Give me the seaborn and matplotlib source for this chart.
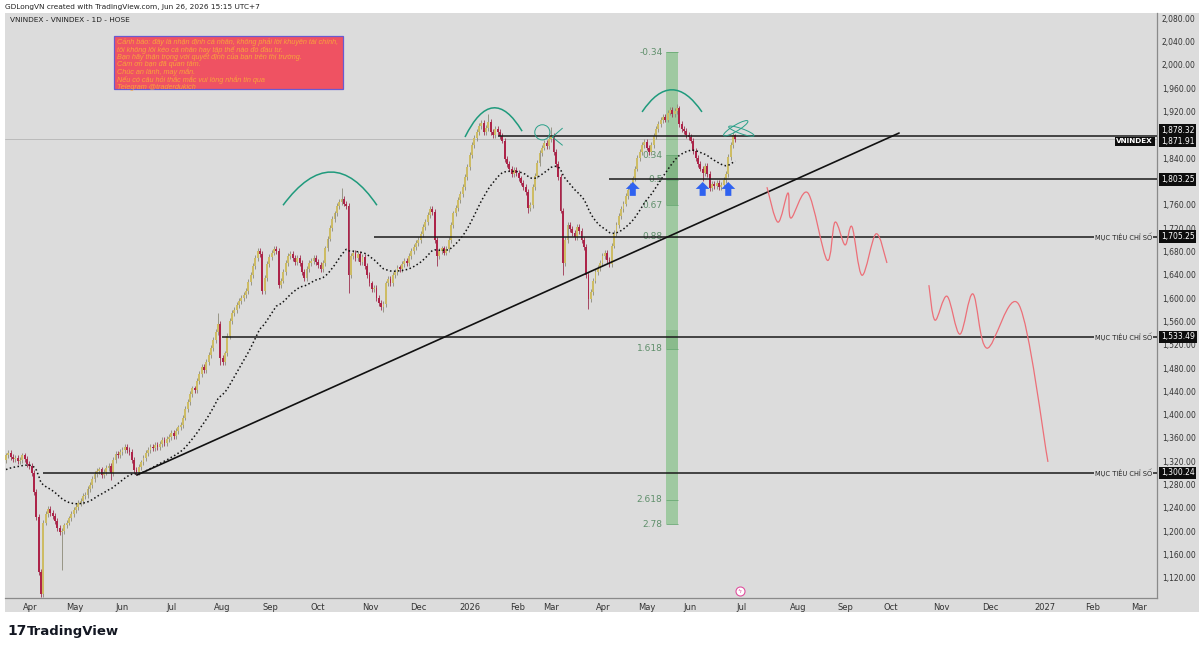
import numpy as np
import pandas as pd
import matplotlib
matplotlib.use('Agg')
import matplotlib.pyplot as plt
import seaborn as sns
from matplotlib.path import Path
from matplotlib.patches import PathPatch, Rectangle, Ellipse

#%% data (daily closes, index = trading-day number)
pre_closes = [1310, 1305, 1300, 1296, 1292, 1298, 1304, 1300, 1295, 1290,
              1295, 1290, 1298, 1302, 1296, 1290, 1285, 1292, 1300, 1305,
              1298, 1294, 1300, 1306, 1310, 1315, 1312, 1318, 1322]
closes = [1330, 1334, 1328, 1324, 1326, 1320, 1322, 1330, 1324, 1316,
          1312, 1300, 1268, 1225, 1130, 1092, 1215, 1230, 1238, 1232,
          1226, 1218, 1205, 1198, 1200, 1210, 1215, 1222, 1230, 1236,
          1242, 1248, 1252, 1260, 1262, 1272, 1280, 1290, 1298, 1304,
          1306, 1296, 1302, 1308, 1312, 1300, 1322, 1332, 1330, 1336,
          1340, 1344, 1340, 1336, 1322, 1305, 1302, 1310, 1318, 1325,
          1334, 1340, 1345, 1342, 1348, 1344, 1350, 1356, 1352, 1358,
          1362, 1368, 1364, 1372, 1378, 1382, 1395, 1410, 1422, 1435,
          1445, 1442, 1458, 1470, 1482, 1476, 1490, 1502, 1515, 1528,
          1542, 1556, 1498, 1490, 1505, 1535, 1560, 1575, 1580, 1588,
          1595, 1600, 1605, 1612, 1628, 1640, 1655, 1668, 1680, 1676,
          1612, 1635, 1658, 1670, 1678, 1684, 1680, 1622, 1630, 1645,
          1660, 1672, 1676, 1668, 1662, 1668, 1660, 1645, 1634, 1650,
          1660, 1664, 1668, 1662, 1656, 1650, 1660, 1685, 1702, 1720,
          1735, 1745, 1758, 1765, 1770, 1762, 1758, 1640, 1672, 1678,
          1668, 1675, 1662, 1670, 1655, 1640, 1625, 1615, 1618, 1600,
          1592, 1585, 1590, 1625, 1632, 1625, 1640, 1645, 1652, 1650,
          1658, 1664, 1660, 1672, 1680, 1688, 1695, 1700, 1710, 1722,
          1730, 1742, 1752, 1748, 1700, 1672, 1680, 1685, 1678, 1684,
          1700, 1725, 1745, 1755, 1768, 1778, 1790, 1808, 1825, 1845,
          1862, 1875, 1884, 1895, 1900, 1885, 1892, 1902, 1885, 1880,
          1890, 1884, 1878, 1870, 1838, 1830, 1822, 1812, 1820, 1815,
          1805, 1798, 1790, 1782, 1755, 1760, 1790, 1810, 1832, 1848,
          1858, 1866, 1860, 1872, 1878, 1850, 1830, 1808, 1750, 1660,
          1700, 1725, 1718, 1712, 1705, 1722, 1715, 1700, 1688, 1640,
          1598, 1610, 1630, 1645, 1652, 1660, 1672, 1678, 1665, 1658,
          1690, 1712, 1725, 1740, 1752, 1762, 1775, 1785, 1792, 1805,
          1822, 1840, 1850, 1862, 1868, 1858, 1850, 1862, 1878, 1890,
          1898, 1905, 1910, 1906, 1918, 1922, 1915, 1920, 1925, 1898,
          1890, 1886, 1880, 1876, 1870, 1852, 1840, 1830, 1822, 1815,
          1826, 1812, 1788, 1796, 1792, 1798, 1790, 1794, 1802, 1812,
          1842, 1862, 1880, 1871.91]
# notable wick extremes: bar -> (high, low)
wick_extremes = {15: (None, 1087), 24: (None, 1134), 45: (None, 1288), 91: (1575, None),
                 92: (None, 1485), 144: (1788, None), 147: (None, 1608), 162: (None, 1576),
                 185: (None, 1655), 207: (1915, None), 224: (None, 1745), 234: (1893, None),
                 239: (None, 1640), 250: (None, 1582), 288: (1932, None), 299: (None, 1800),
                 313: (1882, None)}
ema_span = 34

month_labels = ['Apr', 'May', 'Jun', 'Jul', 'Aug', 'Sep', 'Oct', 'Nov', 'Dec', '2026', 'Feb', 'Mar',
                'Apr', 'May', 'Jun', 'Jul', 'Aug', 'Sep', 'Oct', 'Nov', 'Dec', '2027', 'Feb', 'Mar']
month_pos = [10.3, 29.6, 49.8, 71.2, 92.7, 113.3, 133.9, 156.2, 176.8, 199.1, 219.7, 233.9,
             256.2, 275.1, 293.6, 315.5, 339.9, 360.1, 379.8, 401.3, 422.3, 445.9, 466.5, 486.3]
price_ticks = [p for p in range(1120, 2081, 40) if p not in (1800, 1880)]

# drawings
h_levels = [1878.32, 1803.25, 1705.25, 1533.49, 1300.24]
h_start = [211, 259, 158, 92.7, 16]
target_levels = [1705.25, 1533.49, 1300.24]
last_price = 1871.91
trend_x = [56.2, 383.3]
trend_y = [1296.5, 1882.8]
fib_0, fib_1 = 1932.8, 1673.5
fib_levels = [-0.34, 0.34, 0.5, 0.67, 0.88, 1.618, 2.618, 2.78]
fib_x = (283.3, 288.4)
arcs = [[(118.9, 1759), (139.5, 1816), (159.2, 1759)],
        [(197.0, 1876), (209.0, 1926), (221.5, 1886)],
        [(273.0, 1919), (285.8, 1957), (298.7, 1919)]]
arrow_x = [269, 299, 310]
arrow_y = 1787
proj1_x = [326.6, 331.3, 335.6, 336.9, 344.2, 352.4, 355.8, 360.1, 363.1, 367.4, 373.4, 378.1]
proj1_y = [1790, 1730, 1780, 1737, 1780, 1665, 1730, 1691, 1722, 1639, 1710, 1660]
proj2_x = [396.1, 398.7, 403.9, 409.4, 415.0, 421.0, 434.8, 447.2]
proj2_y = [1622, 1562, 1603, 1538, 1607, 1514, 1588, 1319]

note_lines = ['Cảnh báo: đây là nhận định cá nhân, không phải lời khuyên tài chính,',
              'tôi không lôi kéo cá nhân hay tập thể nào đó đầu tư.',
              'Bạn hãy thận trọng với quyết định của bạn trên thị trường.',
              'Cám ơn bạn đã quan tâm.',
              'Chúc an lành, may mắn.',
              'Nếu có câu hỏi thắc mắc vui lòng nhắn tin qua',
              'Telegram @traderdukich']

#%% helpers
def smoothPath(xs, ys):
    pts = np.column_stack([xs, ys]).astype(float)
    verts = [pts[0]]
    codes = [Path.MOVETO]
    n = len(pts)
    for k in range(n - 1):
        p0 = pts[k - 1] if k > 0 else pts[k]
        p1, p2 = pts[k], pts[k + 1]
        p3 = pts[k + 2] if k + 2 < n else pts[k + 1]
        verts += [p1 + (p2 - p0) / 6, p2 - (p3 - p1) / 6, p2]
        codes += [Path.CURVE4] * 3
    return Path(verts, codes)

def arcPath(a, m, b):
    a, m, b = np.array(a), np.array(m), np.array(b)
    ctrl = 2 * m - (a + b) / 2
    return Path([a, ctrl, b], [Path.MOVETO, Path.CURVE3, Path.CURVE3])

#%% plotting
sns.set_style('white')
plt.rcParams['font.family'] = ['DejaVu Sans']
bg = '#dcdcdc'
W, H = 1199, 646

fig = plt.figure(figsize=(W / 100, H / 100), dpi=100)
fig.patch.set_facecolor('white')
fig.patches.append(Rectangle((5 / W, 1 - 612 / H), 1 - 5 / W, (612 - 13) / H,
                             transform=fig.transFigure, facecolor=bg, edgecolor='none', zorder=-10))
ax = fig.add_axes([5 / W, 1 - 598 / H, (1157 - 5) / W, (598 - 13) / H])
ax.set_facecolor(bg)
ax.set_xlim(-0.43, 494)
ax.set_ylim(1085.7, 2088.6)

c = np.array(closes, dtype=float)
o = np.r_[pre_closes[-1], c[:-1]]
idx = np.arange(len(c))
hi = np.maximum(o, c) + 5
lo = np.minimum(o, c) - 5
for k, (h, l) in wick_extremes.items():
    if h is not None:
        hi[k] = h
    if l is not None:
        lo[k] = l
up = c >= o
ax.vlines(idx[up], lo[up], hi[up], color='#8c8a78', lw=0.6, zorder=3)
ax.vlines(idx[~up], lo[~up], hi[~up], color='#9c3050', lw=0.6, zorder=3)
body = np.maximum(np.abs(c - o), 2.5)
ax.bar(idx, body, bottom=np.minimum(o, c), width=0.8,
       color=np.where(up, '#cdbc64', '#ad2449'), edgecolor='none', zorder=4)

# dotted moving average (EMA)
ema = pd.Series(pre_closes + closes, dtype=float).ewm(span=ema_span, adjust=False).mean().values[len(pre_closes):]
sns.lineplot(x=idx, y=ema, ax=ax, color='#111111', lw=1.1, linestyle=(0, (1, 1.6)), zorder=5)

# current price faint line
ax.axhline(last_price, color='#b5b5b5', lw=0.6, zorder=1)

# horizontal levels
for lev, x0 in zip(h_levels, h_start):
    ax.hlines(lev, x0, 494, color='#1a1a1a', lw=1.1, zorder=6)

# trend line
ax.plot(trend_x, trend_y, color='#111111', lw=1.2, zorder=6)

# fib band
fib_price = [fib_0 - L * (fib_0 - fib_1) for L in fib_levels]
ax.add_patch(Rectangle((fib_x[0], min(fib_price)), fib_x[1] - fib_x[0], max(fib_price) - min(fib_price),
                       facecolor='#4caf50', alpha=0.42, edgecolor='none', zorder=2))
ax.add_patch(Rectangle((fib_x[0], fib_price[3]), fib_x[1] - fib_x[0], fib_price[1] - fib_price[3],
                       facecolor='#2e7d32', alpha=0.25, edgecolor='none', zorder=2))
ax.add_patch(Rectangle((fib_x[0], fib_price[5]), fib_x[1] - fib_x[0], 32,
                       facecolor='#2e7d32', alpha=0.18, edgecolor='none', zorder=2))
for L, p in zip(fib_levels, fib_price):
    ax.hlines(p, fib_x[0], fib_x[1], color='#6aa974', lw=0.6, zorder=2)
    ax.text(fib_x[0] - 1.6, p, f'{L:g}', ha='right', va='center', fontsize=6.5,
            color='#5f8f6b', zorder=3)

# arcs and scribbles
for a, m, b in arcs:
    ax.add_patch(PathPatch(arcPath(a, m, b), facecolor='none', edgecolor='#1f9a7c', lw=1.1, zorder=7))
ax.add_patch(Ellipse((230.2, 1884), 6.5, 26, facecolor='none', edgecolor='#2aa089', lw=0.7, zorder=7))
ax.plot([234.5, 238.8], [1876, 1891], color='#2aa089', lw=0.7, zorder=7)
ax.plot([234.5, 238.8], [1876, 1862], color='#2aa089', lw=0.7, zorder=7)
ax.add_patch(Ellipse((313.2, 1891), 4.5, 28, angle=-20, facecolor='none', edgecolor='#2aa089', lw=0.7, zorder=7))
ax.add_patch(Ellipse((315.6, 1886), 5.0, 20, angle=30, facecolor='none', edgecolor='#2aa089', lw=0.7, zorder=7))

# blue arrows
arrow_marker = [(-0.22, -0.5), (0.22, -0.5), (0.22, 0.0), (0.5, 0.0), (0.0, 0.5), (-0.5, 0.0), (-0.22, 0.0), (-0.22, -0.5)]
ax.scatter(arrow_x, [arrow_y] * len(arrow_x), marker=arrow_marker, s=100, color='#2f62f0',
           edgecolors='none', zorder=8)

# projection
for px_, py_ in [(proj1_x, proj1_y), (proj2_x, proj2_y)]:
    ax.add_patch(PathPatch(smoothPath(px_, py_), facecolor='none', edgecolor='#ec6f78', lw=0.9, zorder=6))

# small pink icon
ax.scatter([315], [1097], s=42, facecolor='white', edgecolor='#e0509e', lw=0.8, zorder=8)
ax.text(315, 1097, 'ϟ', ha='center', va='center', fontsize=4.5, color='#e0509e', zorder=9)

# axes styling
for s in ['top', 'left']:
    ax.spines[s].set_visible(False)
ax.spines['right'].set_color('#8a8a8a')
ax.spines['right'].set_linewidth(0.9)
ax.spines['bottom'].set_color('#8a8a8a')
ax.spines['bottom'].set_linewidth(0.9)
ax.yaxis.tick_right()
ax.set_yticks(price_ticks)
ax.set_yticklabels([f'{p:,.2f}' for p in price_ticks])
ax.set_xticks(month_pos)
ax.set_xticklabels(month_labels)
ax.tick_params(axis='y', length=0, pad=3.5, labelsize=5.5, labelcolor='#333333')
ax.tick_params(axis='x', length=0, pad=3.5, labelsize=6, labelcolor='#333333')
ax.grid(False)

# price labels on axis
ytr = ax.get_yaxis_transform()
box = dict(boxstyle='square,pad=0.22', facecolor='#0d0d0d', edgecolor='none')
for lab, yv in [('1,878.32', 1888), ('1,871.91', 1869), ('1,803.25', 1803.25),
                ('1,705.25', 1705.25), ('1,533.49', 1533.49), ('1,300.24', 1300.24)]:
    ax.text(1.0035, yv, lab, transform=ytr, ha='left', va='center', fontsize=5.5,
            color='white', bbox=box, clip_on=False, zorder=10)
ax.text(0.9965, 1869, 'VNINDEX', transform=ytr, ha='right', va='center', fontsize=5.2,
        color='white', fontweight='bold', bbox=box, clip_on=False, zorder=10)
for lev in target_levels:
    ax.text(0.9955, lev, 'MỤC TIÊU CHỈ SỐ', transform=ytr, ha='right', va='center', fontsize=4.8,
            color='#222222', bbox=dict(boxstyle='square,pad=0.15', facecolor=bg, edgecolor='none'),
            zorder=10)

# figure texts
fig.text(5 / W, 1 - 7 / H, 'GDLongVN created with TradingView.com, Jun 26, 2026 15:15 UTC+7',
         fontsize=5.3, color='#222222', va='center')
fig.text(10 / W, 1 - 20 / H, 'VNINDEX - VNINDEX - 1D - HOSE', fontsize=5.3, color='#222222', va='center')
fig.patches.append(Rectangle((114 / W, 1 - 89 / H), 229 / W, 53 / H, transform=fig.transFigure,
                             facecolor='#ef5262', edgecolor='#6a5ad0', lw=0.9, zorder=5))
fig.text(117 / W, 1 - 38.5 / H, '\n'.join(note_lines), fontsize=5.2, color='#f8a33c', style='italic',
         family=['Liberation Sans', 'DejaVu Sans'], va='top', ha='left', linespacing=0.93, zorder=6)
fig.text(7 / W, 1 - 631 / H, '17', fontsize=10, fontweight='heavy', color='#131722', va='center')
fig.text(27 / W, 1 - 631 / H, 'TradingView', fontsize=9.5, fontweight='semibold', color='#131722', va='center')

fig.savefig('out.png', dpi=100, facecolor='white')
